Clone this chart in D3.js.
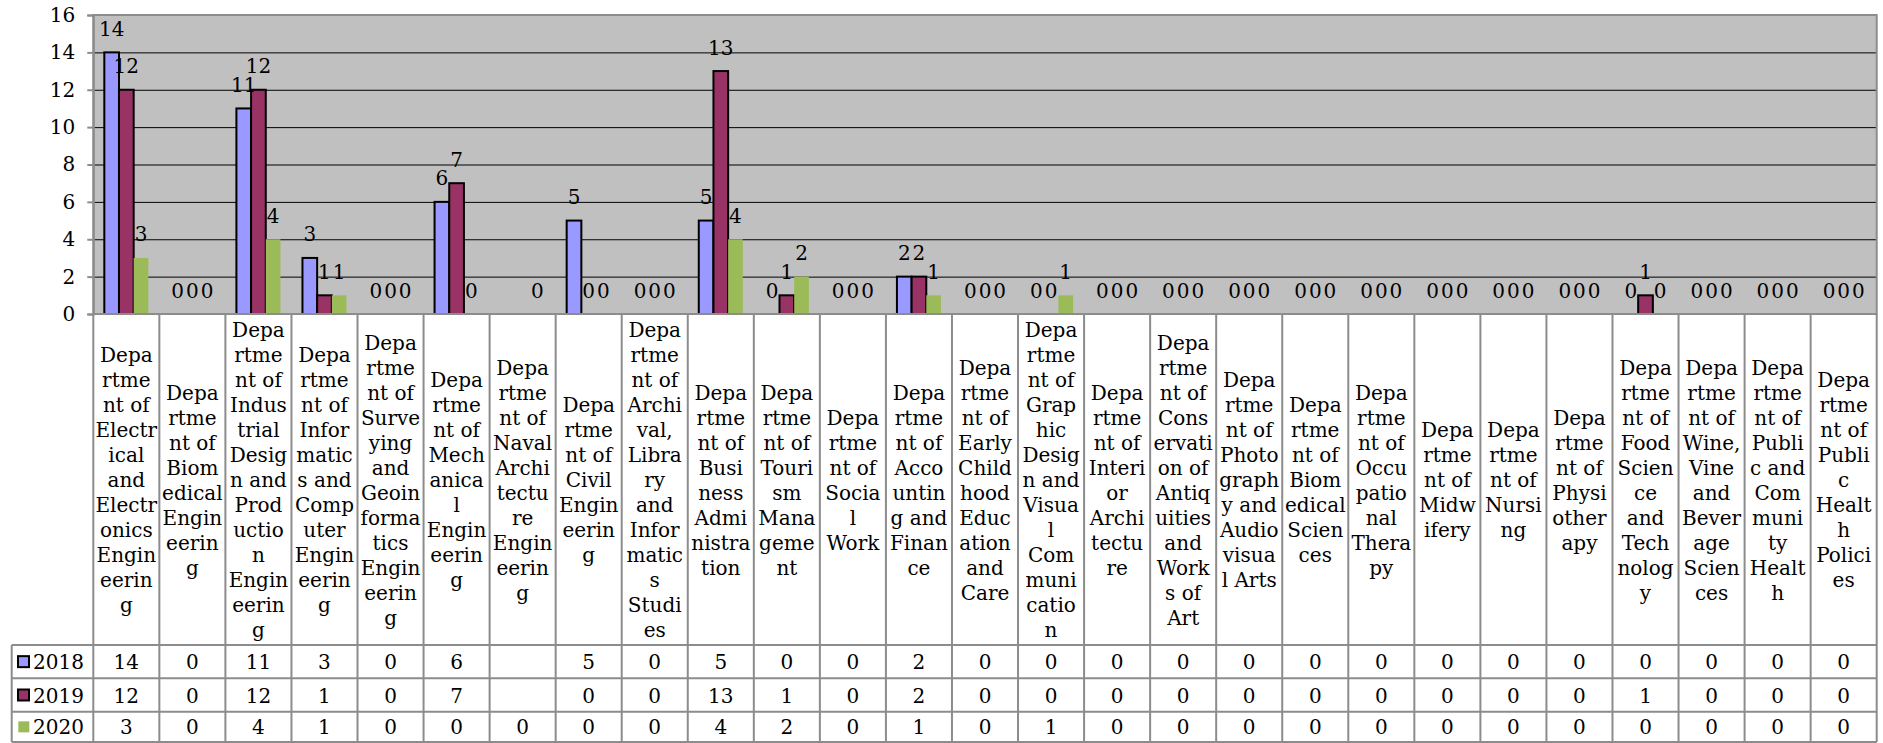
<!DOCTYPE html>
<html><head><meta charset="utf-8">
<script src="https://cdn.jsdelivr.net/npm/d3@7"></script>
<style>
body{margin:0;background:#fff}
svg{display:block}
text{font-family:"DejaVu Serif",serif;fill:#000}
</style>
</head><body>
<svg id="chart" width="1883" height="743"></svg>
<script>
// ---- data ----
const categories = [
 ["Depa","rtme","nt of","Electr","ical","and","Electr","onics","Engin","eerin","g"],
 ["Depa","rtme","nt of","Biom","edical","Engin","eerin","g"],
 ["Depa","rtme","nt of","Indus","trial","Desig","n and","Prod","uctio","n","Engin","eerin","g"],
 ["Depa","rtme","nt of","Infor","matic","s and","Comp","uter","Engin","eerin","g"],
 ["Depa","rtme","nt of","Surve","ying","and","Geoin","forma","tics","Engin","eerin","g"],
 ["Depa","rtme","nt of","Mech","anica","l","Engin","eerin","g"],
 ["Depa","rtme","nt of","Naval","Archi","tectu","re","Engin","eerin","g"],
 ["Depa","rtme","nt of","Civil","Engin","eerin","g"],
 ["Depa","rtme","nt of","Archi","val,","Libra","ry","and","Infor","matic","s","Studi","es"],
 ["Depa","rtme","nt of","Busi","ness","Admi","nistra","tion"],
 ["Depa","rtme","nt of","Touri","sm","Mana","geme","nt"],
 ["Depa","rtme","nt of","Socia","l","Work"],
 ["Depa","rtme","nt of","Acco","untin","g and","Finan","ce"],
 ["Depa","rtme","nt of","Early","Child","hood","Educ","ation","and","Care"],
 ["Depa","rtme","nt of","Grap","hic","Desig","n and","Visua","l","Com","muni","catio","n"],
 ["Depa","rtme","nt of","Interi","or","Archi","tectu","re"],
 ["Depa","rtme","nt of","Cons","ervati","on of","Antiq","uities","and","Work","s of","Art"],
 ["Depa","rtme","nt of","Photo","graph","y and","Audio","visua","l Arts"],
 ["Depa","rtme","nt of","Biom","edical","Scien","ces"],
 ["Depa","rtme","nt of","Occu","patio","nal","Thera","py"],
 ["Depa","rtme","nt of","Midw","ifery"],
 ["Depa","rtme","nt of","Nursi","ng"],
 ["Depa","rtme","nt of","Physi","other","apy"],
 ["Depa","rtme","nt of","Food","Scien","ce","and","Tech","nolog","y"],
 ["Depa","rtme","nt of","Wine,","Vine","and","Bever","age","Scien","ces"],
 ["Depa","rtme","nt of","Publi","c and","Com","muni","ty","Healt","h"],
 ["Depa","rtme","nt of","Publi","c","Healt","h","Polici","es"]
];
const seriesNames = ["2018","2019","2020"];
const values2018 = [14,0,11,3,0,6,null,5,0,5,0,0,2,0,0,0,0,0,0,0,0,0,0,0,0,0,0];
const values2019 = [12,0,12,1,0,7,null,0,0,13,1,0,2,0,0,0,0,0,0,0,0,0,0,1,0,0,0];
const values2020 = [3,0,4,1,0,0,0,0,0,4,2,0,1,0,1,0,0,0,0,0,0,0,0,0,0,0,0];
const yTicks = [0,2,4,6,8,10,12,14,16];

// ---- styles / layout ----
const seriesValues = [values2018, values2019, values2020];
const fills = ["#9999FF","#993366","#9BBB59"];
const strokes = ["#000","#000","none"];
const L = 93.3, R = 1876.7, T = 15, B = 314;
const rowTops = [645, 678.3, 711.7, 742];
const legendLeft = 11.7;
const gridGray = "#8c8c8c";

const svg = d3.select("#chart");
const x = d3.scaleBand().domain(d3.range(categories.length)).range([L, R]).paddingInner(0).paddingOuter(0);
const xs = d3.scaleBand().domain(seriesNames).range([0, x.bandwidth()]).paddingInner(0).paddingOuter(0.75);
const y = d3.scaleLinear().domain([0, 16]).range([B, T]);

// plot background
svg.append("rect").attr("x", L).attr("y", T).attr("width", R - L).attr("height", B - T).attr("fill", "#C0C0C0");

// gridlines
const grid = svg.append("g").attr("transform", `translate(${L},0)`)
  .call(d3.axisLeft(y).tickValues(yTicks.filter(t => t > 0 && t < 16)).tickSize(-(R - L)).tickFormat(""));
grid.select(".domain").remove();
grid.selectAll("line").attr("stroke", "#000").attr("stroke-width", 1);

// bars
seriesNames.forEach((s, si) => {
  const data = seriesValues[si].map((v, i) => ({v, i})).filter(d => d.v !== null);
  svg.append("g").selectAll("rect").data(data).join("rect")
    .attr("x", d => x(d.i) + xs(s))
    .attr("y", d => y(d.v))
    .attr("width", xs.bandwidth())
    .attr("height", d => y(0) - y(d.v))
    .attr("fill", fills[si])
    .attr("stroke", strokes[si])
    .attr("stroke-width", 2);
});

// plot border
svg.append("rect").attr("x", L).attr("y", T).attr("width", R - L).attr("height", B - T)
  .attr("fill", "none").attr("stroke", gridGray).attr("stroke-width", 2);

// y axis
const ya = svg.append("g").attr("transform", `translate(${L},0)`)
  .call(d3.axisLeft(y).tickValues(yTicks).tickSize(6).tickPadding(12));
ya.select(".domain").attr("stroke", gridGray).attr("stroke-width", 2);
ya.selectAll(".tick line").attr("stroke", gridGray).attr("stroke-width", 2);
ya.selectAll(".tick text").style("font-family", '"DejaVu Serif", serif').style("font-size", "20px").attr("fill", "#000");

// data labels
seriesNames.forEach((s, si) => {
  const data = seriesValues[si].map((v, i) => ({v, i})).filter(d => d.v !== null);
  svg.append("g").selectAll("text").data(data).join("text")
    .attr("x", d => x(d.i) + xs(s) + xs.bandwidth() / 2)
    .attr("y", d => y(d.v) - 16.5)
    .attr("text-anchor", "middle")
    .style("font-size", "20px")
    .text(d => d.v);
});

// data table
const tbl = svg.append("g");
// vertical lines
d3.range(categories.length + 1).forEach(k => {
  const xx = k < categories.length ? x(k) : R;
  tbl.append("line").attr("x1", xx).attr("x2", xx).attr("y1", B).attr("y2", rowTops[3])
    .attr("stroke", gridGray).attr("stroke-width", 2);
});
tbl.append("line").attr("x1", legendLeft).attr("x2", legendLeft).attr("y1", rowTops[0]).attr("y2", rowTops[3])
  .attr("stroke", gridGray).attr("stroke-width", 2);
rowTops.forEach(ry => {
  tbl.append("line").attr("x1", legendLeft).attr("x2", R).attr("y1", ry).attr("y2", ry)
    .attr("stroke", gridGray).attr("stroke-width", 2);
});

// category labels
const headCenter = (B + rowTops[0]) / 2;
const lh = 25;
categories.forEach((lines, i) => {
  const t = tbl.append("text").attr("text-anchor", "middle").style("font-size", "20px");
  const y0 = headCenter - lines.length * lh / 2 + 20;
  lines.forEach((ln, j) => {
    t.append("tspan").attr("x", x(i) + x.bandwidth() / 2).attr("y", y0 + j * lh).text(ln);
  });
});

// rows
seriesNames.forEach((s, si) => {
  const cy = (rowTops[si] + rowTops[si + 1]) / 2;
  const kx = si < 2 ? 18 : 18.3;
  const ks = si < 2 ? 11 : 11;
  tbl.append("rect").attr("x", kx).attr("y", cy - ks / 2).attr("width", ks).attr("height", ks)
    .attr("fill", fills[si]).attr("stroke", strokes[si]).attr("stroke-width", 2);
  tbl.append("text").attr("x", 33).attr("y", cy + 7.5).style("font-size", "20px").text(s);
  seriesValues[si].forEach((v, i) => {
    if (v === null) return;
    tbl.append("text").attr("x", x(i) + x.bandwidth() / 2).attr("y", cy + 7.5)
      .attr("text-anchor", "middle").style("font-size", "20px").text(v);
  });
});
</script>
</body></html>
